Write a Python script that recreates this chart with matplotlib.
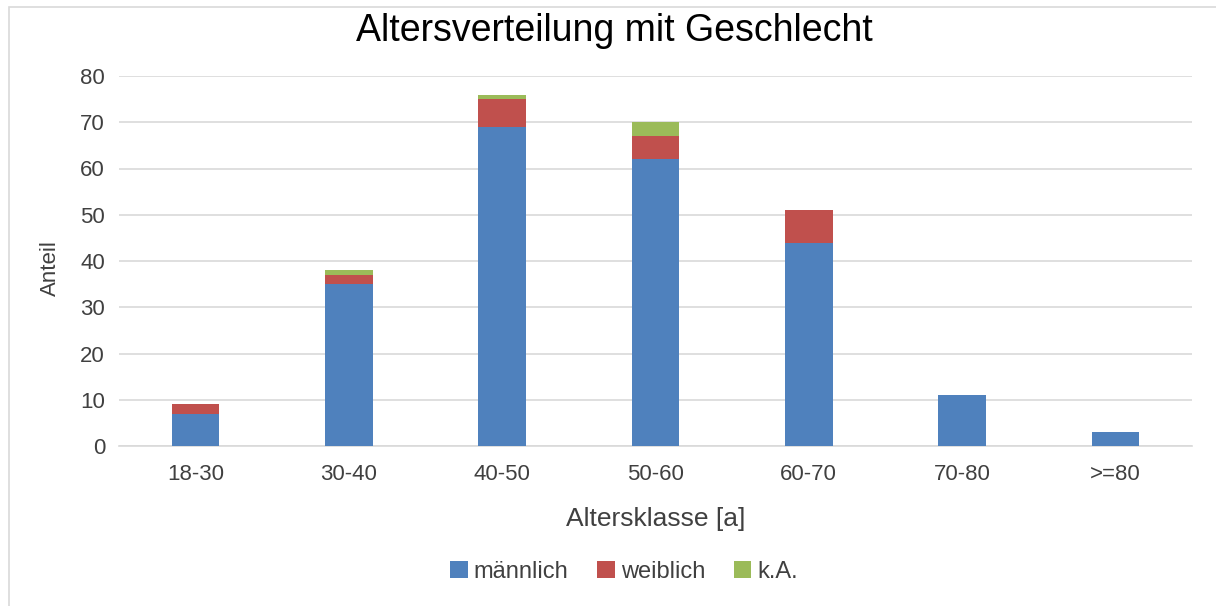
"""Stacked bar chart: age distribution split by gender."""

import matplotlib

matplotlib.use("Agg")
import matplotlib.pyplot as plt
from matplotlib.patches import Rectangle
import numpy as np

plt.rcParams["font.family"] = ["Liberation Sans", "DejaVu Sans"]

categories = ["18-30", "30-40", "40-50", "50-60", "60-70", "70-80", ">=80"]
maennlich = [7, 35, 69, 62, 44, 11, 3]
weiblich = [2, 2, 6, 5, 7, 0, 0]
keine_angabe = [0, 1, 1, 3, 0, 0, 0]

series = [
    ("männlich", maennlich, "#4F81BD"),
    ("weiblich", weiblich, "#C0504D"),
    ("k.A.", keine_angabe, "#9BBB59"),
]

W, H = 1216, 606
fig = plt.figure(figsize=(W / 100, H / 100), dpi=100)
ax = fig.add_axes([119 / W, 1 - 446 / H, (1192 - 119) / W, (446 - 76) / H])

# light frame around the chart area
fig.patches.append(Rectangle((9 / W, -0.01), 1.0, 1 - 7 / H + 0.01, transform=fig.transFigure,
                             fill=False, edgecolor="#D9D9D9", linewidth=1.2))

x = np.arange(len(categories))
bottom = np.zeros(len(categories))
handles = []
for label, values, color in series:
    values = np.asarray(values, dtype=float)
    bars = ax.bar(x, values, width=0.31, bottom=bottom, color=color, label=label, zorder=3)
    handles.append(bars)
    bottom += values

ax.set_xlim(-0.5, len(categories) - 0.5)
ax.set_ylim(0, 80)
ax.set_yticks(range(0, 81, 10))
ax.set_xticks(x)
ax.set_xticklabels(categories)
ax.tick_params(axis="both", length=0, labelsize=16, colors="#404040")
ax.tick_params(axis="y", pad=10)
ax.tick_params(axis="x", pad=13)
ax.grid(axis="y", color="#D9D9D9", linewidth=1.2, zorder=0)
for side in ("top", "right", "left"):
    ax.spines[side].set_visible(False)
ax.spines["bottom"].set_color("#D9D9D9")
ax.spines["bottom"].set_linewidth(1.2)

ax.set_xlabel("Altersklasse [a]", fontsize=19, color="#404040")
ax.xaxis.label.set_va("center")
ax.xaxis.set_label_coords(0.5, (446 - 519) / 370)
ax.set_ylabel("Anteil", fontsize=16, color="#404040")
ax.yaxis.label.set_va("center")
ax.yaxis.set_label_coords((50 - 119) / 1073, (446 - 268) / 370)

fig.text(614 / W, 1 - 41 / H, "Altersverteilung mit Geschlecht", ha="center", va="baseline",
         fontsize=27, color="#000000")

fig.legend(handles=handles, loc="center", bbox_to_anchor=(624 / W, 1 - 572 / H), ncol=3, frameon=False,
           fontsize=17, handlelength=0.76, handleheight=0.76, handletextpad=0.25, columnspacing=1.2,
           labelcolor="#404040")

fig.savefig("out.png", dpi=100, facecolor="white")
